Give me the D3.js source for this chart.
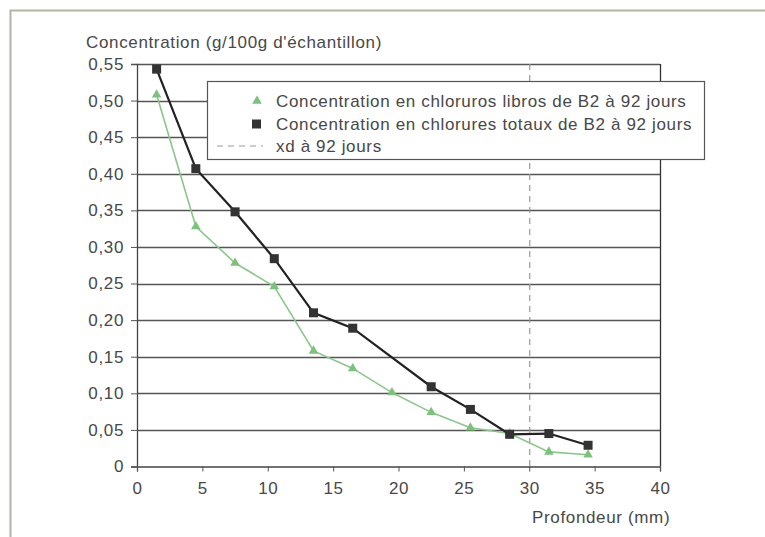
<!DOCTYPE html>
<html lang="fr">
<head>
<meta charset="UTF-8">
<title>Concentration en chlorures</title>
<script src="https://d3js.org/d3.v7.min.js"></script>
<style>
  body { margin: 0; background: #fff; }
  text { font-family: "Liberation Sans", Arial, sans-serif; fill: #484848; letter-spacing: 0.65px; }
</style>
</head>
<body>
<div id="chart"></div>
<script>
// data
var depthLibres = [1.5, 4.5, 7.5, 10.5, 13.5, 16.5, 19.5, 22.5, 25.5, 28.5, 31.5, 34.5];
var libres      = [0.508, 0.328, 0.278, 0.246, 0.158, 0.134, 0.101, 0.074, 0.053, 0.045, 0.020, 0.016];
var depthTotaux = [1.5, 4.5, 7.5, 10.5, 13.5, 16.5, 22.5, 25.5, 28.5, 31.5, 34.5];
var totaux      = [0.543, 0.407, 0.348, 0.284, 0.210, 0.189, 0.109, 0.078, 0.044, 0.045, 0.029];
var xd = 30;
var xTicks = [0, 5, 10, 15, 20, 25, 30, 35, 40];
var yTicks = [0, 0.05, 0.10, 0.15, 0.20, 0.25, 0.30, 0.35, 0.40, 0.45, 0.50, 0.55];
var legendLabels = [
  "Concentration en chloruros libros de B2 à 92 jours",
  "Concentration en chlorures totaux de B2 à 92 jours",
  "xd à 92 jours"
];

var W = 765, H = 537;
var svg = d3.select("#chart").append("svg")
    .attr("width", W).attr("height", H);

// outer frame of the scan
svg.append("rect")
    .attr("x", 10.5).attr("y", 10.5)
    .attr("width", W).attr("height", H)
    .attr("fill", "none").attr("stroke", "#b4b4a4").attr("stroke-width", 2);

var x = d3.scaleLinear().domain([0, 40]).range([137, 660]);
var y = d3.scaleLinear().domain([0, 0.55]).range([466.5, 64]);

var fmt = function(d) { return d === 0 ? "0" : d3.format(".2f")(d).replace(".", ","); };

// horizontal grid
svg.append("g").selectAll("line")
    .data(yTicks.filter(function(d) { return d > 0; }))
    .enter().append("line")
    .attr("x1", x(0)).attr("x2", x(40))
    .attr("y1", function(d) { return Math.round(y(d)) + 0.5; })
    .attr("y2", function(d) { return Math.round(y(d)) + 0.5; })
    .attr("stroke", "#555").attr("stroke-width", 1.3);

// right border
svg.append("line")
    .attr("x1", x(40) + 0.5).attr("x2", x(40) + 0.5)
    .attr("y1", y(0.55)).attr("y2", y(0))
    .attr("stroke", "#333").attr("stroke-width", 1.3);

// xd dashed line
svg.append("line")
    .attr("x1", x(xd) + 0.5).attr("x2", x(xd) + 0.5)
    .attr("y1", y(0.55)).attr("y2", y(0))
    .attr("stroke", "#999").attr("stroke-width", 1.2)
    .attr("stroke-dasharray", "6,5");

// axes
var yAxis = svg.append("g")
    .attr("transform", "translate(" + x(0) + ",0)")
    .call(d3.axisLeft(y).tickValues(yTicks).tickFormat(fmt).tickSize(6).tickPadding(7));
var xAxis = svg.append("g")
    .attr("transform", "translate(0," + y(0) + ")")
    .call(d3.axisBottom(x).tickValues(xTicks).tickFormat(d3.format("d")).tickSize(5).tickPadding(10));
[xAxis, yAxis].forEach(function(a) {
  a.select(".domain").attr("stroke", "#444").attr("stroke-width", 1.3);
  a.selectAll(".tick line").attr("stroke", "#555");
  a.selectAll("text").style("font-size", "17px")
    .style("font-family", "'Liberation Sans', Arial, sans-serif").attr("fill", "#555");
});

// axis titles
svg.append("text").attr("x", 86).attr("y", 48)
    .style("font-size", "17px")
    .text("Concentration (g/100g d'échantillon)");
svg.append("text").attr("x", 532).attr("y", 523)
    .style("font-size", "17px")
    .text("Profondeur (mm)");

// series lines
var line = d3.line().x(function(d) { return x(d[0]); }).y(function(d) { return y(d[1]); });
var libresPts = d3.zip(depthLibres, libres);
var totauxPts = d3.zip(depthTotaux, totaux);

svg.append("path").datum(libresPts).attr("d", line)
    .attr("fill", "none").attr("stroke", "#8cc68c").attr("stroke-width", 1.6);
svg.append("path").datum(totauxPts).attr("d", line)
    .attr("fill", "none").attr("stroke", "#222").attr("stroke-width", 2.2);

var tri = d3.symbol().type(d3.symbolTriangle).size(40);
svg.append("g").selectAll("path")
    .data(libresPts).enter().append("path")
    .attr("d", tri)
    .attr("transform", function(d) { return "translate(" + x(d[0]) + "," + y(d[1]) + ")"; })
    .attr("fill", "#7cc27c");

svg.append("g").selectAll("rect")
    .data(totauxPts).enter().append("rect")
    .attr("x", function(d) { return x(d[0]) - 4.5; })
    .attr("y", function(d) { return y(d[1]) - 4.5; })
    .attr("width", 9).attr("height", 9)
    .attr("fill", "#333");

// legend
var lg = svg.append("g");
lg.append("rect")
    .attr("x", 207.5).attr("y", 81.5).attr("width", 497).attr("height", 78)
    .attr("fill", "#fff").attr("stroke", "#555").attr("stroke-width", 1.2);
var rowY = [101, 124, 146];
lg.append("path").attr("d", tri)
    .attr("transform", "translate(257," + rowY[0] + ")").attr("fill", "#7cc27c");
lg.append("rect").attr("x", 252).attr("y", rowY[1] - 4.5)
    .attr("width", 9).attr("height", 9).attr("fill", "#333");
lg.append("line").attr("x1", 217).attr("x2", 263)
    .attr("y1", rowY[2]).attr("y2", rowY[2])
    .attr("stroke", "#999").attr("stroke-width", 1.2).attr("stroke-dasharray", "6,5");
lg.selectAll("text.lab").data(legendLabels).enter().append("text")
    .attr("class", "lab")
    .attr("x", 276).attr("y", function(d, i) { return rowY[i] + 6; })
    .style("font-size", "17px")
    .text(function(d) { return d; });
</script>
</body>
</html>
